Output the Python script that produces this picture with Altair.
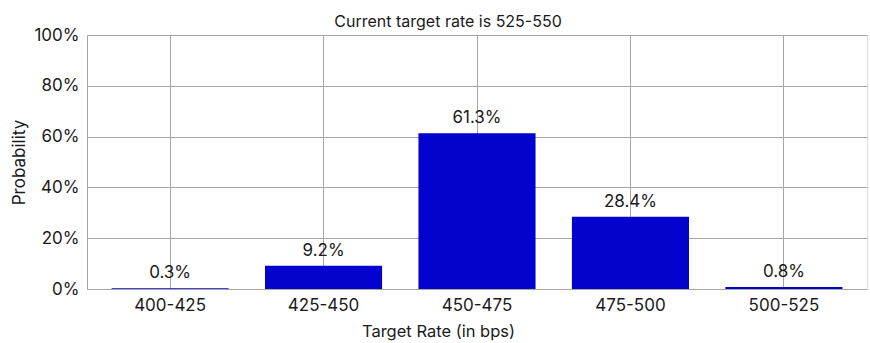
import altair as alt
import pandas as pd

# Probability of each target-rate range (percent)
ranges = ["400-425", "425-450", "450-475", "475-500", "500-525"]
probabilities = [0.3, 9.2, 61.3, 28.4, 0.8]

df = pd.DataFrame({
    "range": ranges,
    "prob": [p / 100 for p in probabilities],
})

FONT = "Inter"
BAR_COLOR = "#0303ce"
GRID = "#a6a6a6"
TEXT = "#1a1a1a"

x = alt.X(
    "range:N",
    sort=ranges,
    title="Target Rate (in bps)",
    scale=alt.Scale(paddingInner=0.237, paddingOuter=0.16),
    axis=alt.Axis(
        grid=True, gridColor=GRID, gridWidth=1,
        domain=False, ticks=False, labelAngle=0,
        labelFontSize=17, labelPadding=8, labelColor=TEXT, labelFont=FONT,
        titleFontSize=16.5, titleFont=FONT, titleColor=TEXT, titleFontWeight="normal",
        titlePadding=10, titleX=351,
    ),
)

y = alt.Y(
    "prob:Q",
    title="Probability",
    scale=alt.Scale(domain=[0, 1]),
    axis=alt.Axis(
        format=".0%", values=[0, 0.2, 0.4, 0.6, 0.8, 1.0],
        grid=True, gridColor=GRID, gridWidth=1,
        domain=True, domainColor=GRID, ticks=False,
        labelFontSize=17, labelPadding=8, labelColor=TEXT, labelFont=FONT,
        titleFontSize=17, titleFont=FONT, titleColor=TEXT, titleFontWeight="normal",
        titlePadding=5,
    ),
)

bars = alt.Chart(df).mark_bar(color=BAR_COLOR).encode(x=x, y=y)

labels = alt.Chart(df).mark_text(
    baseline="alphabetic", dy=-10, fontSize=17, font=FONT, color=TEXT
).encode(
    x=alt.X("range:N", sort=ranges),
    y="prob:Q",
    text=alt.Text("prob:Q", format=".1%"),
)

chart = (
    alt.layer(bars, labels)
    .properties(
        width=780,
        height=254,
        title=alt.TitleParams(
            "Current target rate is 525-550",
            fontSize=16, font=FONT, color=TEXT, fontWeight="normal",
            anchor="middle", dx=-29, offset=-4,
        ),
        autosize=alt.AutoSizeParams(type="none"),
        padding={"left": 87, "top": 35, "right": 3, "bottom": 54},
    )
    .configure_view(stroke=None)
    .configure(background="white")
)

chart.save("out.html", embed_options={"renderer": "svg", "actions": False})
